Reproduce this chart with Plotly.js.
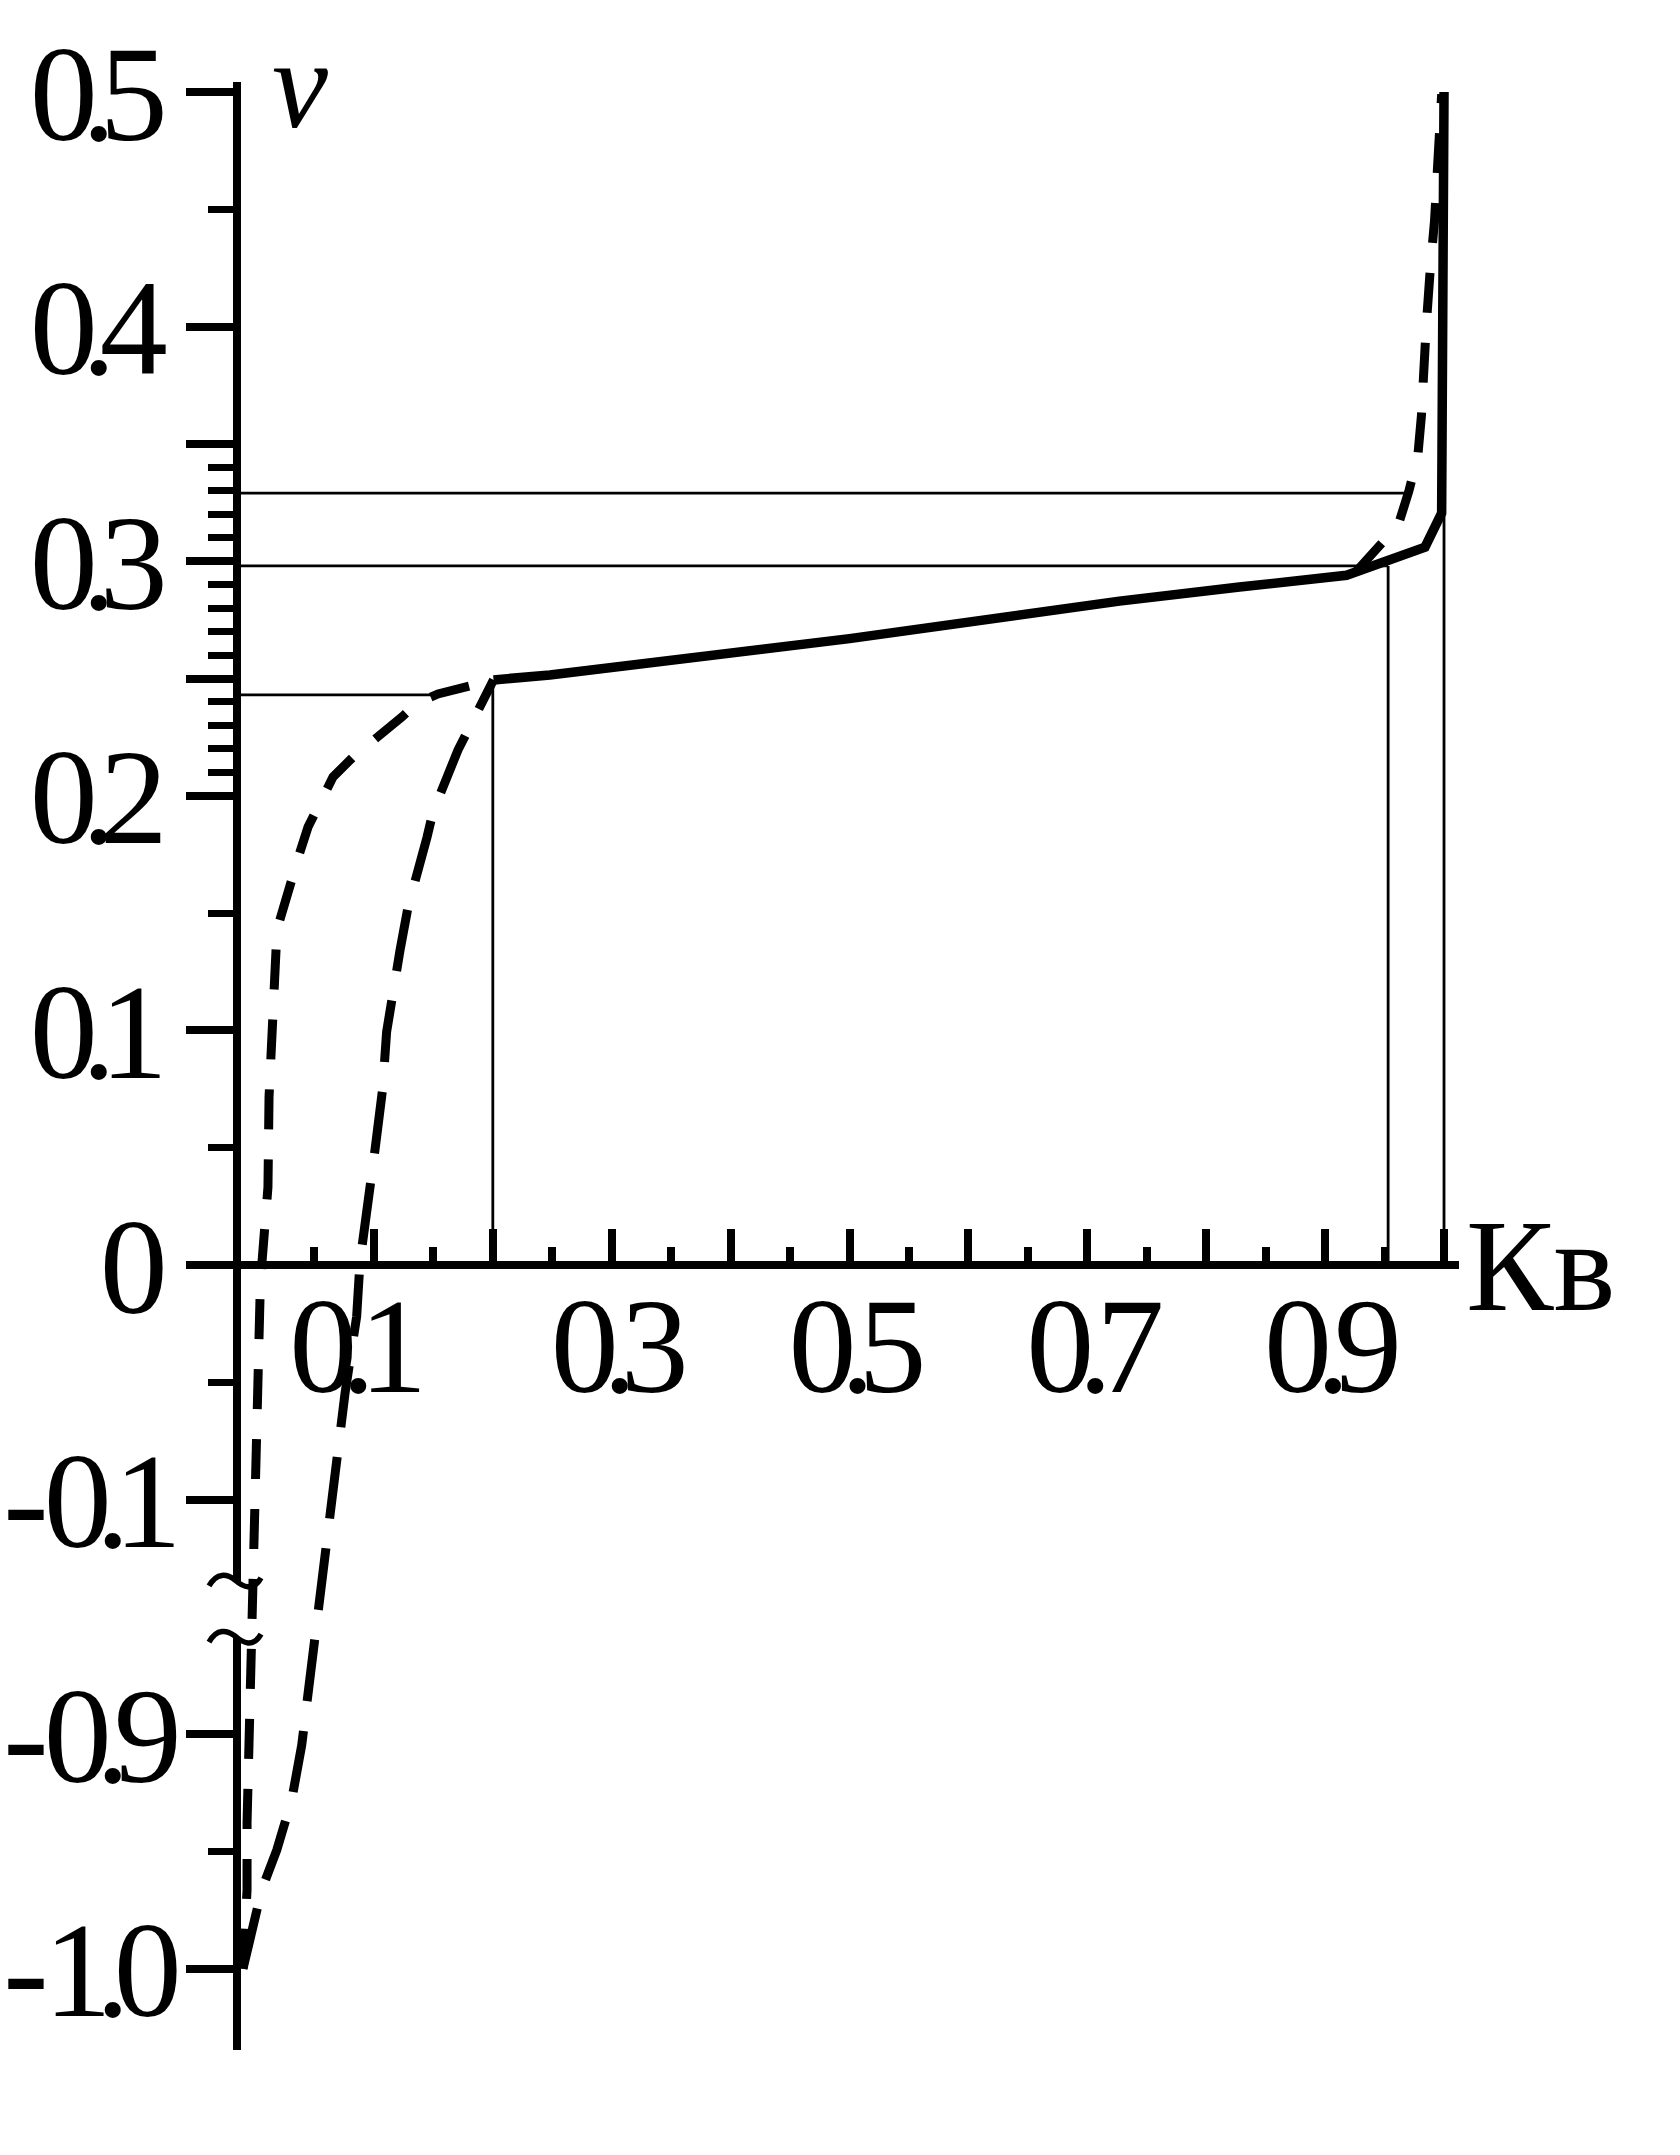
<!DOCTYPE html>
<html>
<head>
<meta charset="utf-8">
<script src="https://cdn.plot.ly/plotly-3.0.1.min.js"></script>
<style>
  html, body { margin: 0; padding: 0; background: #fff; }
  #chart { width: 1680px; height: 2155px; }
  .xtick text, .ytick text { letter-spacing: -16px !important; }
</style>
</head>
<body>
<div id="chart"></div>
<script>
// ---------- data ----------
// solid curve
const solidK  = [0.2006, 0.248, 0.5, 0.727, 0.828, 0.918, 0.984, 0.998, 1.0];
const solidNu = [0.2494, 0.2515, 0.267, 0.283, 0.289, 0.294, 0.306, 0.3205, 0.5];

// long-dash curve (inner, left)
const longDashK  = [-0.0101, 0.0056, 0.0183, 0.0309, 0.0393, 0.0463, 0.049, 0.0561, 0.0631, 0.0687,
                    0.0757, 0.0799, 0.0855, 0.0883, 0.0953, 0.1009, 0.1074, 0.1107, 0.1220, 0.1287,
                    0.1447, 0.1497, 0.1707, 0.1876, 0.2006];
const longDashNu = [-1.0, -0.9664, -0.9494, -0.928, -0.9046, -0.8748, -0.8627, -0.1321, -0.1016, -0.0845,
                    -0.0547, -0.0405, -0.022, 0.0014, 0.0249, 0.049, 0.0753, 0.0994, 0.1343, 0.1526,
                    0.1824, 0.1931, 0.2195, 0.2366, 0.2494];

// short-dash curve: left branch, then right branch
const shortDashLeftK  = [-0.0101, -0.0076, -0.0067, -0.0067, -0.005, -0.0042, -0.0025, -0.0017, 0.0, 0.0017,
                         0.0042, 0.0059, 0.0084, 0.0109, 0.0118, 0.0143, 0.0151, 0.0168, 0.0185, 0.0378,
                         0.0446, 0.0656, 0.0824, 0.1236, 0.1363, 0.1539, 0.2006];
const shortDashLeftNu = [-1.0, -0.9835, -0.9664, -0.9379, -0.9046, -0.8628, -0.1343, -0.11, -0.0776, -0.0477,
                         -0.0141, 0.0013, 0.0213, 0.0332, 0.0716, 0.0989, 0.1057, 0.130, 0.143, 0.176,
                         0.1867, 0.208, 0.2165, 0.2336, 0.2396, 0.2434, 0.2494];
const shortDashRightK  = [0.925, 0.9615, 0.9705, 0.978, 0.981, 0.9825, 0.985, 0.9885, 0.992, 0.998];
const shortDashRightNu = [0.295, 0.3154, 0.330, 0.345, 0.362, 0.380, 0.400, 0.425, 0.445, 0.499];

// thin guide lines
const hGuideNu   = [0.329, 0.298, 0.243];
const hGuideKEnd = [0.967, 0.953, 0.154];
const vGuideK     = [0.2, 0.953, 1.0];
const vGuideNuEnd = [0.2494, 0.298, 0.5];

// ticks
const xMajorTicks  = [0.1, 0.2, 0.3, 0.4, 0.5, 0.6, 0.7, 0.8, 0.9, 1.0];
const xMajorLabels = ['0.1\u00A0\u00A0\u2009', '', '0.3', '', '0.5', '', '0.7', '', '0.9', ''];
const xMinorTicks  = [0.05, 0.15, 0.25, 0.35, 0.45, 0.55, 0.65, 0.75, 0.85, 0.95];
const yMajorTicks  = [0.5, 0.4, 0.35, 0.3, 0.25, 0.2, 0.1, 0, -0.1, -0.9, -1.0];
const yMajorLabels = ['0.5', '0.4', '', '0.3', '', '0.2', '0.1', '0',
                      '-\u20090.<span style="letter-spacing:-30px">1</span>',
                      '-\u20090.<span style="letter-spacing:-30px">9</span>',
                      '-\u20091.<span style="letter-spacing:-30px">0</span>'];
const yMinorTicks  = [0.45, 0.34, 0.33, 0.32, 0.31, 0.29, 0.28, 0.27, 0.26, 0.24, 0.23, 0.22, 0.21,
                      0.15, 0.05, -0.05, -0.95];

// ---------- broken y scale: [-0.86,-0.14] squeezed ----------
function ty(v) {
  if (v === null) return null;
  if (v >= -0.14) return v;
  if (v <= -0.86) return v + 0.7;
  return -0.14 + (v + 0.14) * (0.02 / 0.72);
}
const T = arr => arr.map(ty);

const BLACK = '#000';
const X0 = -0.01514, X1 = 1.0126;
const Y0 = -0.33461, Y1 = 0.50426;
const FONT = 'Liberation Serif, Times New Roman, serif';
const toPaperX = x => (x - X0) / (X1 - X0);

const traces = [];

// guide lines
hGuideNu.forEach((nu, i) => {
  traces.push({x: [X0, hGuideKEnd[i]], y: T([nu, nu]), mode: 'lines',
    line: {color: BLACK, width: 2.8}, hoverinfo: 'skip', showlegend: false});
});
vGuideK.forEach((k, i) => {
  traces.push({x: [k, k], y: T([0, vGuideNuEnd[i]]), mode: 'lines',
    line: {color: BLACK, width: 2.8}, hoverinfo: 'skip', showlegend: false});
});

traces.push({x: solidK, y: T(solidNu), mode: 'lines',
  line: {color: BLACK, width: 9.5}, showlegend: false, cliponaxis: false});
traces.push({x: longDashK, y: T(longDashNu), mode: 'lines',
  line: {color: BLACK, width: 9, dash: '62px,30px'}, showlegend: false, cliponaxis: false});
traces.push({x: shortDashLeftK.concat([null], shortDashRightK),
  y: T(shortDashLeftNu.concat([null], shortDashRightNu)), mode: 'lines', connectgaps: false,
  line: {color: BLACK, width: 9, dash: '40px,30px'}, showlegend: false, cliponaxis: false});

const tildePath = 'M -26,-4 C -18,10 -8,8 0,2 C 8,-5 18,-10 26,4';

const layout = {
  width: 1680, height: 2155,
  margin: {l: 237, r: 221, t: 82, b: 105, pad: 0},
  paper_bgcolor: '#fff', plot_bgcolor: '#fff',
  showlegend: false,
  xaxis: {
    range: [X0, X1], anchor: 'free', position: (0 - Y0) / (Y1 - Y0), side: 'bottom',
    showline: false, zeroline: false, showgrid: false,
    tickmode: 'array', tickvals: xMajorTicks, ticktext: xMajorLabels, tickangle: 0,
    ticks: 'inside', ticklen: 36, tickwidth: 8, tickcolor: BLACK,
    minor: {tickmode: 'array', tickvals: xMinorTicks, ticks: 'inside', ticklen: 18, tickwidth: 8, tickcolor: BLACK, showgrid: false},
    tickfont: {family: FONT, size: 136, color: BLACK},
    ticklabelstandoff: -10, automargin: false
  },
  yaxis: {
    range: [Y0, Y1], showline: false, zeroline: false, showgrid: false,
    tickmode: 'array', tickvals: T(yMajorTicks), ticktext: yMajorLabels, tickangle: 0,
    ticks: 'outside', ticklen: 50, tickwidth: 8, tickcolor: BLACK,
    minor: {tickmode: 'array', tickvals: T(yMinorTicks), ticks: 'outside', ticklen: 28, tickwidth: 7, tickcolor: BLACK, showgrid: false},
    tickfont: {family: FONT, size: 136, color: BLACK},
    ticklabelstandoff: 7, automargin: false
  },
  shapes: [
    // y axis, upper and lower pieces
    {type: 'line', xref: 'paper', yref: 'y', x0: 0, x1: 0, y0: -0.1351, y1: Y1, line: {color: BLACK, width: 8}},
    {type: 'line', xref: 'paper', yref: 'y', x0: 0, x1: 0, y0: Y0, y1: -0.159, line: {color: BLACK, width: 8}},
    // x axis
    {type: 'line', xref: 'paper', yref: 'y', x0: 0, x1: 1, y0: 0, y1: 0, line: {color: BLACK, width: 8}},
    // break marks
    {type: 'path', xref: 'paper', yref: 'y', xsizemode: 'pixel', ysizemode: 'pixel',
     xanchor: toPaperX(-0.0168), yanchor: -0.1351, path: tildePath, line: {color: BLACK, width: 5.5}},
    {type: 'path', xref: 'paper', yref: 'y', xsizemode: 'pixel', ysizemode: 'pixel',
     xanchor: toPaperX(-0.0168), yanchor: -0.159, path: tildePath, line: {color: BLACK, width: 5.5}}
  ],
  annotations: [
    {xref: 'paper', yref: 'paper', x: toPaperX(0.0378), y: (0.503 - Y0) / (Y1 - Y0), text: '<i>ν</i>', showarrow: false,
     xanchor: 'center', yanchor: 'middle', font: {family: FONT, size: 126, color: BLACK}},
    {xref: 'paper', yref: 'paper', x: toPaperX(1.0168), y: (0 - Y0) / (Y1 - Y0), text: 'Кв', showarrow: false,
     xanchor: 'left', yanchor: 'middle', font: {family: FONT, size: 131, color: BLACK}}
  ]
};

Plotly.newPlot('chart', traces, layout, {staticPlot: true, displayModeBar: false});
</script>
</body>
</html>
